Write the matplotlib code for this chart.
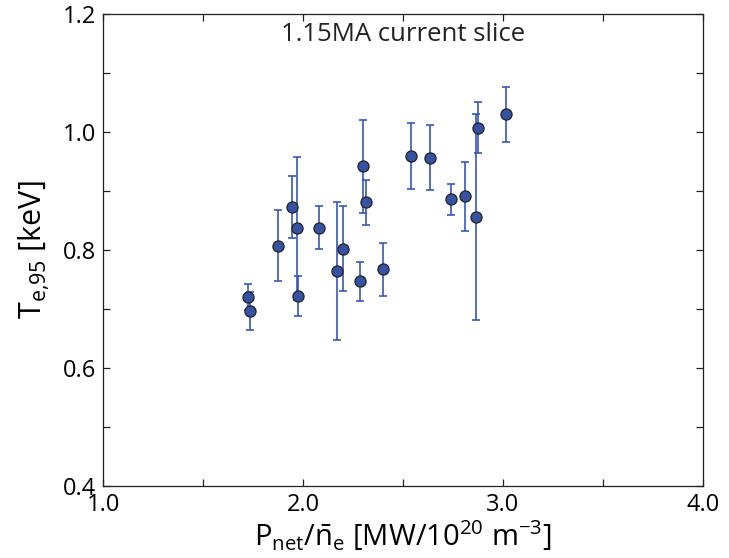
import matplotlib
matplotlib.use("Agg")
import matplotlib.pyplot as plt
from matplotlib.ticker import MultipleLocator, FixedLocator

plt.rcParams['font.family'] = ['Open Sans', 'DejaVu Sans']
plt.rcParams['mathtext.fontset'] = 'custom'
plt.rcParams['mathtext.rm'] = 'Open Sans'
plt.rcParams['mathtext.it'] = 'Open Sans'

p_net = [1.727, 1.735, 1.877, 1.943, 1.968, 1.975, 2.082, 2.172, 2.202, 2.285,
         2.302, 2.317, 2.402, 2.540, 2.633, 2.738, 2.812, 2.867, 2.873, 3.013]
te95 = [0.720, 0.697, 0.807, 0.873, 0.837, 0.722, 0.838, 0.764, 0.802, 0.747,
        0.942, 0.881, 0.767, 0.960, 0.956, 0.886, 0.891, 0.856, 1.007, 1.030]
te_err = [0.022, 0.032, 0.060, 0.052, 0.121, 0.034, 0.037, 0.117, 0.072, 0.033,
          0.079, 0.038, 0.045, 0.056, 0.055, 0.026, 0.058, 0.175, 0.043, 0.047]

x_ticklabels = ['1.0', '2.0', '3.0', '4.0']
y_ticklabels = ['0.4', '0.6', '0.8', '1.0', '1.2']
title_text = '1.15MA current slice'

fig = plt.figure(figsize=(7.29, 5.58), dpi=100)
ax = fig.add_axes([0.1413, 0.129, 0.823, 0.846])

ax.errorbar(p_net, te95, yerr=te_err, fmt='none', ecolor='#3a57b5',
            elinewidth=1.2, capsize=3, capthick=1.2, zorder=2)
ax.plot(p_net, te95, 'o', ms=8, mfc='#3652a3', mec='#222222', mew=0.9, zorder=3)

ax.set_xlim(1.0, 4.0)
ax.set_ylim(0.4, 1.2)
ax.xaxis.set_major_locator(FixedLocator([1.0, 2.0, 3.0, 4.0]))
ax.set_xticklabels(x_ticklabels)
ax.xaxis.set_minor_locator(MultipleLocator(0.5))
ax.yaxis.set_major_locator(FixedLocator([0.4, 0.6, 0.8, 1.0, 1.2]))
ax.set_yticklabels(y_ticklabels)
ax.yaxis.set_minor_locator(MultipleLocator(0.1))
ax.tick_params(which='both', direction='in', top=True, right=True,
               labelsize=17, width=0.9, color='#222222')
ax.tick_params(which='major', length=5)
ax.tick_params(which='minor', length=5)
ax.tick_params(axis='x', pad=5)
ax.tick_params(axis='y', pad=5)
for s in ax.spines.values():
    s.set_linewidth(0.9)
    s.set_color('#222222')

ax.text(0.5, 0.983, title_text, transform=ax.transAxes, ha='center', va='top',
        fontsize=18.5, color='#222222')

ax.set_xlabel(r'P$_{\mathregular{net}}$/$\mathregular{\bar{n}}_{\mathregular{e}}$ [MW/10$^{\mathregular{20}}$ m$^{\mathregular{-3}}$]',
              fontsize=21, labelpad=1)
ax.set_ylabel(r'T$_{\mathregular{e{,}95}}$ [keV]', fontsize=22, labelpad=8)

fig.savefig('out.png', dpi=100)
